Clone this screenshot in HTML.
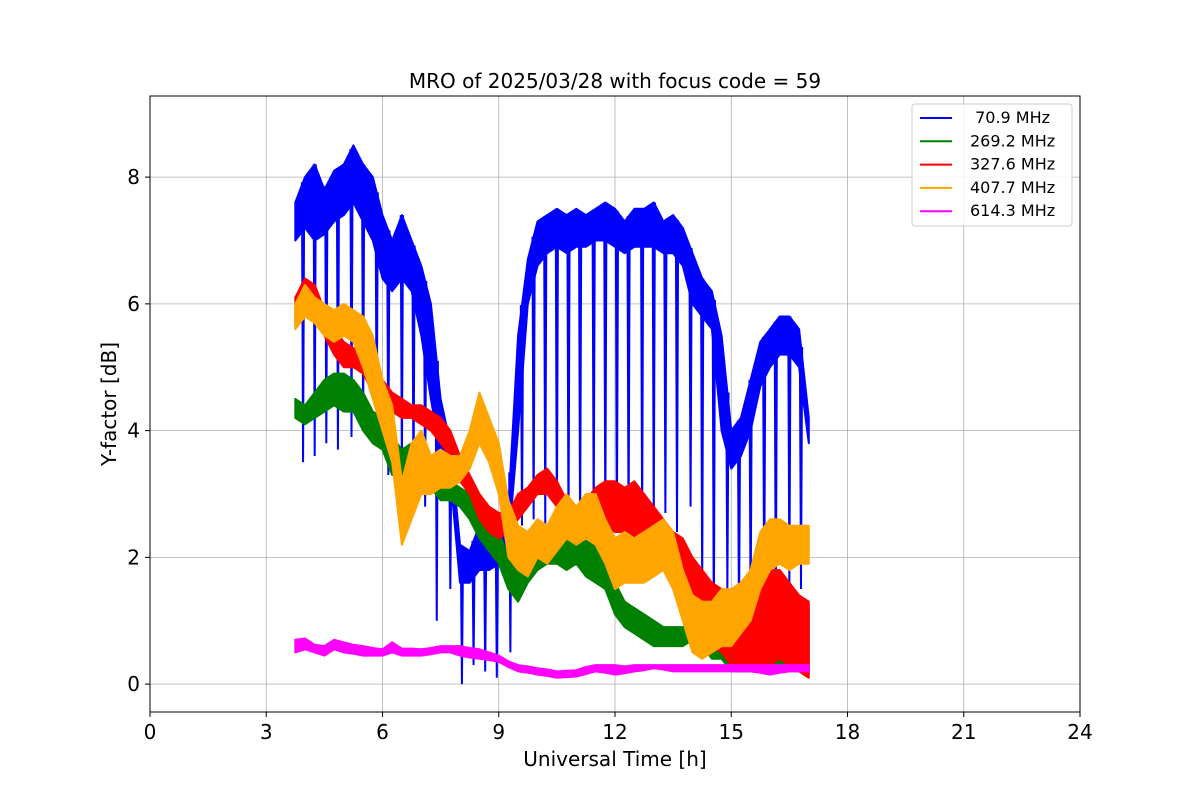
<!DOCTYPE html>
<html>
<head>
<meta charset="utf-8">
<style>
html,body{margin:0;padding:0;background:#fff;}
svg{display:block;font-family:"DejaVu Sans","Liberation Sans",sans-serif;}
</style>
</head>
<body>
<svg id="chart" width="1200" height="800" viewBox="0 0 1200 800" xmlns="http://www.w3.org/2000/svg">
<rect x="0" y="0" width="1200" height="800" fill="#fff"/>
<text x="615" y="88" font-size="20" text-anchor="middle">MRO of 2025/03/28 with focus code = 59</text>
<g id="grid"></g>
<defs><clipPath id="clip"><rect x="150" y="96" width="930" height="616"/></clipPath></defs>
<g id="series" clip-path="url(#clip)"></g>
<rect x="150" y="96" width="930" height="616" fill="none" stroke="#000" stroke-width="1"/>
<g id="ticks"></g>
<text x="615" y="766" font-size="20" text-anchor="middle">Universal Time [h]</text>
<text x="0" y="0" font-size="20" text-anchor="middle" transform="translate(116,404) rotate(-90)">Y-factor [dB]</text>
<g id="legend"></g>
</svg>
<script>
const xTicks=[0,3,6,9,12,15,18,21,24];
const yTicks=[0,2,4,6,8];
const seriesLabels=[" 70.9 MHz","269.2 MHz","327.6 MHz","407.7 MHz","614.3 MHz"];
const seriesColors=["#0000ff","#008000","#ff0000","#ffa500","#ff00ff"];
const times=[3.75,4,4.25,4.5,4.75,5,5.25,5.5,5.75,6,6.25,6.5,6.75,7,7.25,7.5,7.75,8,8.25,8.5,8.75,9,9.25,9.5,9.75,10,10.25,10.5,10.75,11,11.25,11.5,11.75,12,12.25,12.5,12.75,13,13.25,13.5,13.75,14,14.25,14.5,14.75,15,15.25,15.5,15.75,16,16.25,16.5,16.75,17];
const blueLo=[7.0,7.2,7.0,7.1,7.3,7.4,7.6,7.3,7.0,6.4,6.2,6.4,6.2,5.5,4.5,3.6,3.3,1.6,1.6,1.8,1.8,1.9,2.2,4.0,6.0,6.6,6.8,6.9,6.8,6.9,6.9,7.0,7.0,6.9,6.8,6.9,6.9,6.9,6.8,6.8,6.6,6.0,5.8,5.6,4.0,3.4,3.6,4.0,4.7,5.0,5.2,5.2,5.0,3.8];
const blueHi=[7.6,8.0,8.2,7.8,8.1,8.2,8.5,8.2,8.0,7.4,7.0,7.4,7.0,6.6,6.0,4.5,3.8,2.2,2.1,2.5,2.3,2.4,2.8,5.5,6.7,7.3,7.4,7.5,7.4,7.5,7.4,7.5,7.6,7.5,7.3,7.5,7.5,7.6,7.3,7.4,7.2,6.8,6.4,6.2,5.5,4.0,4.2,4.8,5.4,5.6,5.8,5.8,5.6,4.2];
const blueDipTimes=[3.95,4.25,4.55,4.85,5.2,5.5,5.85,6.15,6.5,6.8,7.1,7.4,7.75,8.05,8.35,8.65,8.95,9.3,9.6,9.9,10.2,10.5,10.8,11.1,11.45,11.75,12.05,12.35,12.7,13.0,13.3,13.6,13.95,14.25,14.55,14.9,15.2,15.5,15.85,16.15,16.5,16.8];
const blueDipValues=[3.5,3.6,3.8,3.7,3.9,4.0,3.9,3.3,3.3,3.0,2.8,1.0,1.5,0.0,0.3,0.2,0.1,0.5,2.5,2.6,2.5,2.4,2.4,2.3,2.6,2.5,2.6,2.4,2.5,2.5,2.7,2.4,2.8,1.5,0.7,1.5,1.0,1.1,1.3,1.2,1.5,1.5];
const greenLo=[4.2,4.1,4.2,4.3,4.4,4.3,4.3,4.0,3.8,3.7,3.3,3.3,3.4,3.3,3.1,2.9,2.9,2.8,2.6,2.3,2.1,1.9,1.5,1.3,1.6,1.8,1.9,1.9,1.8,1.9,1.7,1.6,1.5,1.1,0.9,0.8,0.7,0.6,0.6,0.6,0.6,0.7,0.6,0.4,0.4,0.2,0.2,0.2,0.2,0.2,0.2,0.2,0.2,0.2];
const greenHi=[4.5,4.4,4.6,4.8,4.9,4.9,4.8,4.6,4.3,4.2,3.9,3.7,3.8,3.7,3.5,3.3,3.2,3.1,3.0,2.8,2.6,2.4,2.0,1.8,2.2,2.3,2.5,2.4,2.4,2.5,2.3,2.2,2.1,1.6,1.3,1.2,1.1,1.0,0.9,0.9,0.9,1.0,1.0,0.9,1.0,0.7,0.8,0.9,1.0,1.0,1.0,1.2,1.3,1.2];
const redLo=[5.7,6.0,5.9,5.5,5.2,5.0,5.0,4.9,4.6,4.4,4.3,4.2,4.2,4.1,4.0,3.8,3.6,3.2,3.0,2.6,2.4,2.3,2.4,2.6,2.8,3.0,3.0,2.8,2.5,2.3,2.4,2.5,2.5,2.4,2.4,2.3,2.2,2.0,1.9,1.6,1.4,1.2,1.0,0.6,0.5,0.3,0.3,0.3,0.3,0.3,0.4,0.3,0.2,0.1];
const redHi=[6.1,6.4,6.3,5.9,5.6,5.4,5.3,5.3,5.0,4.8,4.6,4.5,4.4,4.4,4.3,4.2,4.0,3.6,3.3,3.0,2.8,2.7,2.7,3.0,3.1,3.3,3.4,3.2,2.9,2.8,2.9,3.1,3.2,3.2,3.1,3.2,3.0,2.8,2.6,2.4,2.3,2.0,1.8,1.6,1.5,1.0,1.2,1.3,1.6,1.8,1.8,1.6,1.4,1.3];
const orangeLo=[5.6,5.8,5.7,5.5,5.4,5.5,5.4,5.0,4.5,4.0,3.5,2.2,2.6,3.0,3.0,3.1,3.1,3.2,3.4,3.8,3.5,3.0,2.0,1.8,1.7,2.0,1.9,2.1,2.3,2.2,2.3,2.2,1.9,1.5,1.6,1.6,1.6,1.7,1.8,1.5,1.0,0.5,0.4,0.5,0.6,0.6,0.8,1.0,1.5,1.8,1.9,1.8,1.9,1.9];
const orangeHi=[6.0,6.3,6.1,6.0,5.9,6.0,5.9,5.8,5.5,4.8,4.4,3.2,3.8,4.0,3.6,3.7,3.6,3.6,4.0,4.6,4.2,3.8,2.9,2.5,2.4,2.6,2.5,2.8,3.0,2.8,3.0,3.0,2.6,2.3,2.4,2.3,2.4,2.5,2.6,2.4,1.8,1.4,1.3,1.3,1.5,1.5,1.6,1.8,2.4,2.6,2.6,2.5,2.5,2.5];
const magentaLo=[0.5,0.55,0.5,0.45,0.55,0.5,0.48,0.45,0.45,0.45,0.5,0.45,0.45,0.45,0.47,0.5,0.5,0.45,0.42,0.4,0.38,0.35,0.27,0.2,0.18,0.15,0.13,0.1,0.11,0.12,0.16,0.2,0.18,0.15,0.17,0.2,0.22,0.25,0.23,0.2,0.2,0.2,0.2,0.2,0.2,0.2,0.2,0.2,0.18,0.15,0.18,0.2,0.2,0.2];
const magentaHi=[0.7,0.72,0.62,0.6,0.7,0.66,0.62,0.6,0.57,0.55,0.66,0.56,0.56,0.55,0.57,0.6,0.6,0.6,0.57,0.55,0.5,0.45,0.36,0.3,0.28,0.25,0.23,0.2,0.21,0.22,0.27,0.3,0.3,0.3,0.28,0.3,0.3,0.3,0.3,0.3,0.3,0.3,0.3,0.3,0.3,0.3,0.3,0.3,0.3,0.3,0.3,0.3,0.3,0.3];

const NS="http://www.w3.org/2000/svg";
const X0=150,X1=1080,Y0=712,Y1=96,xMin=0,xMax=24,yMin=-0.44,yMax=9.28;
function xs(v){return X0+(v-xMin)/(xMax-xMin)*(X1-X0);}
function ys(v){return Y0-(v-yMin)/(yMax-yMin)*(Y0-Y1);}
function mk(tag,attrs,parent){const e=document.createElementNS(NS,tag);for(const k in attrs)e.setAttribute(k,attrs[k]);parent.appendChild(e);return e;}
const grid=document.getElementById('grid'),ticks=document.getElementById('ticks'),ser=document.getElementById('series'),leg=document.getElementById('legend');
xTicks.forEach(t=>{
  const g=mk('line',{x1:xs(t),x2:xs(t),y1:Y1,y2:Y0,stroke:'#b0b0b0','stroke-width':0.8},grid);
  
  
  mk('line',{x1:xs(t),x2:xs(t),y1:Y0,y2:Y0+5,stroke:'#000','stroke-width':1},ticks);
  const l=mk('text',{x:xs(t),y:Y0+27,'font-size':20,'text-anchor':'middle'},ticks);
  l.textContent=t;
  
  
});
yTicks.forEach(t=>{
  const g=mk('line',{x1:X0,x2:X1,y1:ys(t),y2:ys(t),stroke:'#b0b0b0','stroke-width':0.8},grid);
  
  
  mk('line',{x1:X0-5,x2:X0,y1:ys(t),y2:ys(t),stroke:'#000','stroke-width':1},ticks);
  const l=mk('text',{x:X0-10,y:ys(t)+7,'font-size':20,'text-anchor':'end'},ticks);
  l.textContent=t;
  
  
});
function band(lo,hi,color,name){
  let d='M'+times.map((t,i)=>xs(t).toFixed(1)+','+ys(hi[i]).toFixed(1)).join('L');
  d+='L'+times.slice().reverse().map((t,j)=>{const i=times.length-1-j;return xs(t).toFixed(1)+','+ys(lo[i]).toFixed(1);}).join('L')+'Z';
  const p=mk('path',{d:d,fill:color,stroke:color,'stroke-width':2,'stroke-linejoin':'round'},ser);
  
  
}
function interp(arr,t){for(let i=0;i<times.length-1;i++){if(t>=times[i]&&t<=times[i+1]){const f=(t-times[i])/(times[i+1]-times[i]);return arr[i]+f*(arr[i+1]-arr[i]);}}return arr[arr.length-1];}
band(blueLo,blueHi,seriesColors[0],'series-70-9-mhz');
blueDipTimes.forEach((t,i)=>{
  const top=interp(blueHi,t);
  const l=mk('path',{d:`M${xs(t-0.03)},${ys(top)}L${xs(t)},${ys(blueDipValues[i])}L${xs(t+0.03)},${ys(top)}`,fill:'none',stroke:seriesColors[0],'stroke-width':2},ser);
  
  
});
band(greenLo,greenHi,seriesColors[1],'series-269-2-mhz');
band(redLo,redHi,seriesColors[2],'series-327-6-mhz');
band(orangeLo,orangeHi,seriesColors[3],'series-407-7-mhz');
band(magentaLo,magentaHi,seriesColors[4],'series-614-3-mhz');
// legend
const box=mk('rect',{x:912,y:104,width:160,height:122,rx:3,fill:'#fff','fill-opacity':0.8,stroke:'#cccccc'},leg);


seriesLabels.forEach((s,i)=>{
  const y=118+i*23.3;
  const ln=mk('line',{x1:920,x2:952,y1:y,y2:y,stroke:seriesColors[i],'stroke-width':2},leg);
  
  
  const tx=mk('text',{x:970,y:y+5,'font-size':16,'xml:space':'preserve'},leg);
  tx.setAttribute('style','white-space:pre');
  tx.textContent=s;
  
  
});
</script>
</body>
</html>
